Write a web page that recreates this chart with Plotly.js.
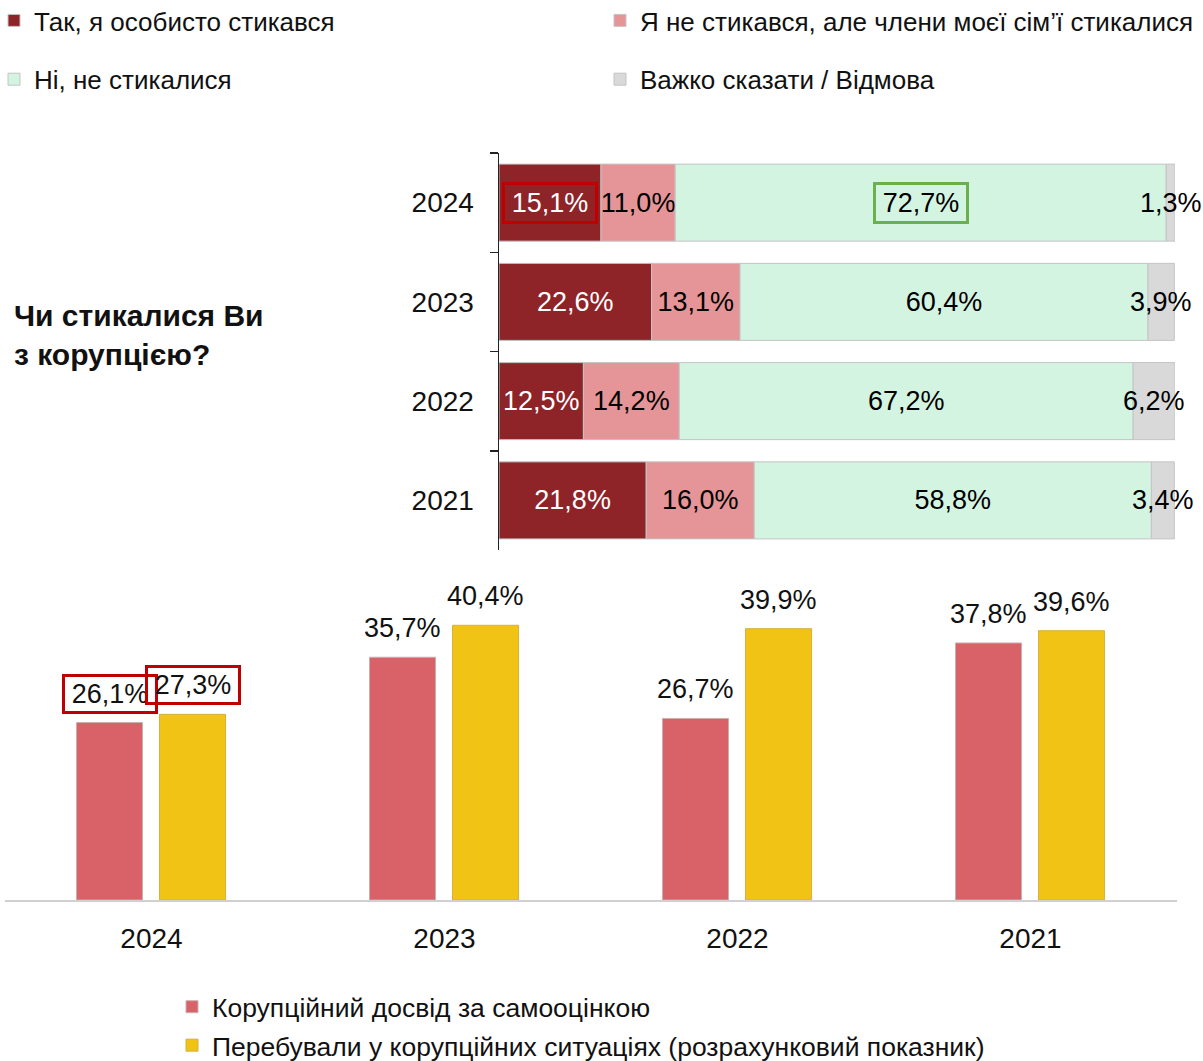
<!DOCTYPE html>
<html>
<head>
<meta charset="utf-8">
<script src="https://cdn.plot.ly/plotly-3.0.1.min.js"></script>
<style>html,body{margin:0;padding:0;background:#fff;}#chart{width:1203px;height:1061px;}</style>
</head>
<body>
<div id="chart"></div>
<script>
// ---- data ----
const years = ['2024', '2023', '2022', '2021'];
const seriesNames = ['Так, я особисто стикався', 'Я не стикався, але члени моєї сім’ї стикалися', 'Ні, не стикалися', 'Важко сказати / Відмова'];
const personally = [15.1, 22.6, 12.5, 21.8];
const family = [11.0, 13.1, 14.2, 16.0];
const notFaced = [72.7, 60.4, 67.2, 58.8];
const hardToSay = [1.3, 3.9, 6.2, 3.4];

const barNames = ['Корупційний досвід за самооцінкою', 'Перебували у корупційних ситуаціях (розрахунковий показник)'];
const selfAssessed = [26.1, 35.7, 26.7, 37.8];
const estimated = [27.3, 40.4, 39.9, 39.6];

const question = 'Чи стикалися Ви<br>з корупцією?';
// highlighted labels (2024)
const highlight = {personally: '#c00000', notFaced: '#6ab04c'};

// ---- helpers ----
const FONT = 'Liberation Sans, Arial, sans-serif';
const fmt = v => v.toFixed(1).replace('.', ',') + '%';
const stackSeries = [personally, family, notFaced, hardToSay];
const stackKeys = ['personally', 'family', 'notFaced', 'hardToSay'];
const stackColors = ['#8e2328', '#e59598', '#d4f4e2', '#d9d9d9'];
const stackText = ['#ffffff', '#000000', '#000000', '#000000'];
const stackLegend = ['legend', 'legend2', 'legend', 'legend2'];
const labelAsAnnotation = {hardToSay: true}; // narrow segments: label overflows the bar

const bases = stackSeries.map((s, k) => years.map((_, i) => {
  let b = 0; for (let j = 0; j < k; j++) b += stackSeries[j][i]; return b;
}));

const traces = [];
const annotations = [];

stackSeries.forEach((s, k) => {
  const key = stackKeys[k];
  const texts = s.map((v, i) => (labelAsAnnotation[key] || (i === 0 && highlight[key])) ? '' : fmt(v));
  traces.push({
    type: 'bar', orientation: 'h', name: seriesNames[k],
    y: years, x: s, base: bases[k], width: 0.776,
    xaxis: 'x', yaxis: 'y',
    marker: {color: stackColors[k], line: {color: '#c4c4c4', width: 1}},
    text: texts, textposition: 'inside', insidetextanchor: 'middle', textangle: 0,
    constraintext: 'none', cliponaxis: false,
    textfont: {family: FONT, size: 27, color: stackText[k]},
    legend: stackLegend[k], legendgroup: 'g' + k,
    hoverinfo: 'skip'
  });
  s.forEach((v, i) => {
    const boxed = i === 0 && highlight[key];
    if (!boxed && !labelAsAnnotation[key]) return;
    const a = {
      xref: 'x', yref: 'y', x: bases[k][i] + v / 2, y: i,
      text: fmt(v), showarrow: false,
      font: {family: FONT, size: 27, color: stackText[k]}
    };
    if (boxed) Object.assign(a, {bordercolor: highlight[key], borderwidth: 3, borderpad: 3, width: 84, height: 30});
    annotations.push(a);
  });
});

const barColors = ['#d96168', '#f0c314'];
const barLines = ['#c9b0b0', '#d6b040'];
const barWidth = 0.2255;
const barOffsets = [-0.256, 0.0273];
[selfAssessed, estimated].forEach((s, k) => {
  traces.push({
    type: 'bar', name: barNames[k], x: years, y: s,
    width: barWidth, offset: barOffsets[k],
    xaxis: 'x2', yaxis: 'y2',
    marker: {color: barColors[k], line: {color: barLines[k], width: 1}},
    legend: 'legend3', legendgroup: 'b' + k, hoverinfo: 'skip'
  });
  s.forEach((v, i) => {
    const a = {
      xref: 'x2', yref: 'y2', x: i + barOffsets[k] + barWidth / 2, y: v,
      yanchor: 'middle', yshift: 29, text: fmt(v), showarrow: false,
      font: {family: FONT, size: 27, color: '#111'}
    };
    if (i === 0) {
      Object.assign(a, {bordercolor: '#c00000', borderwidth: 3, borderpad: 3, width: 84, height: 28});
    }
    annotations.push(a);
  });
});

annotations.push({
  xref: 'paper', yref: 'paper', x: 12 / 1203, y: 1 - 335 / 1061,
  xanchor: 'left', yanchor: 'middle', align: 'left', showarrow: false,
  text: '<b>' + question + '</b>',
  font: {family: FONT, size: 30, color: '#111'}
});

const legendBase = {
  orientation: 'v', traceorder: 'grouped', tracegroupgap: 22,
  font: {family: FONT, size: 26, color: '#111'},
  bgcolor: 'rgba(0,0,0,0)', borderwidth: 0,
  xanchor: 'left', yanchor: 'top', itemclick: false, itemdoubleclick: false
};

const layout = {
  width: 1203, height: 1061,
  margin: {l: 0, r: 0, t: 0, b: 0, autoexpand: false},
  paper_bgcolor: '#fff', plot_bgcolor: 'rgba(0,0,0,0)',
  barmode: 'overlay',
  showlegend: true,
  font: {family: FONT, color: '#111'},
  xaxis: {domain: [499 / 1203, 1175 / 1203], range: [0, 100.1], visible: false, anchor: 'y', fixedrange: true},
  yaxis: {
    domain: [1 - 550 / 1061, 1 - 153 / 1061], type: 'category',
    categoryorder: 'array', categoryarray: years, range: [3.5, -0.5], autorange: false,
    anchor: 'x', showline: true, linecolor: '#222', linewidth: 1.5,
    ticks: 'outside', tickson: 'boundaries', ticklen: 8, tickwidth: 1.5, tickcolor: '#222',
    ticklabelstandoff: 18, showgrid: false, zeroline: false,
    tickfont: {family: FONT, size: 28, color: '#111'}, fixedrange: true
  },
  xaxis2: {
    domain: [5 / 1203, 1177 / 1203], type: 'category', anchor: 'y2',
    categoryorder: 'array', categoryarray: years, range: [-0.5, 3.5], autorange: false,
    showline: true, linecolor: '#d0d0d0', linewidth: 2, ticks: '', showgrid: false,
    ticklabelstandoff: 12,
    tickfont: {family: FONT, size: 28, color: '#111'}, fixedrange: true
  },
  yaxis2: {domain: [1 - 900 / 1061, 1 - 560 / 1061], range: [0, 50], autorange: false, visible: false, anchor: 'x2', fixedrange: true},
  legend: Object.assign({}, legendBase, {x: -6 / 1203, y: 1 + 3 / 1061}),
  legend2: Object.assign({}, legendBase, {x: 600 / 1203, y: 1 + 3 / 1061}),
  legend3: Object.assign({}, legendBase, {x: 172 / 1203, y: 1 - 983 / 1061, tracegroupgap: 1, font: {family: FONT, size: 26.5, color: '#111'}}),
  annotations: annotations
};

Plotly.newPlot('chart', traces, layout, {staticPlot: true, displayModeBar: false});
</script>
</body>
</html>
